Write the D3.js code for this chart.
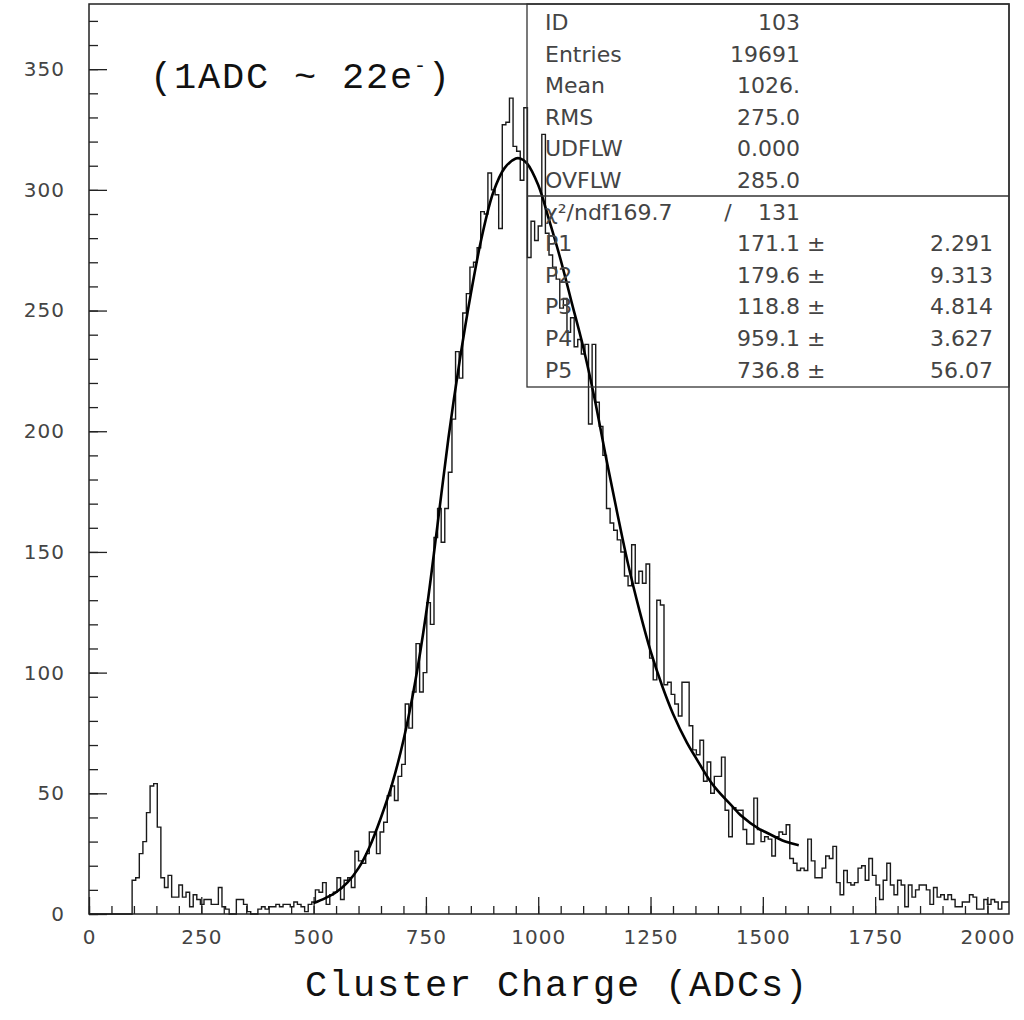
<!DOCTYPE html>
<html>
<head>
<meta charset="utf-8">
<script src="https://cdn.jsdelivr.net/npm/d3@7"></script>
<style>
  body { margin: 0; background: #fff; }
  svg { display: block; }
</style>
</head>
<body>
<div id="chart"></div>
<script>
// histogram: 256 bins of 8 ADC from 0 to 2048
var binWidth = 8;
var counts = [
  0,0,0,0,0,0,0,0,0,0,0,0,14,15,25,30,
  42,53,54,36,15,11,16,7,7,12,7,9,3,8,6,4,
  6,6,4,4,11,3,2,0,0,6,6,4,1,0,0,2,
  3,2,3,3,4,3,4,4,3,5,4,3,1,4,5,10,
  9,13,4,8,9,15,6,14,15,11,26,22,21,25,34,34,
  25,34,38,49,53,47,57,62,87,77,92,112,92,100,129,120,
  156,168,154,168,183,205,233,222,249,257,268,270,276,291,290,307,
  300,298,284,327,328,338,318,316,304,334,272,287,279,285,323,282,
  273,268,263,251,255,241,247,235,238,232,236,203,236,212,202,190,
  168,162,159,155,150,140,136,153,137,142,137,145,106,97,130,128,
  95,96,91,87,82,96,96,78,68,66,72,55,63,50,57,57,
  65,43,32,44,43,43,35,29,29,48,35,30,32,31,24,32,
  34,33,37,23,21,18,19,18,31,22,15,15,19,24,23,28,
  13,8,18,13,12,13,19,20,14,23,16,12,6,14,21,12,
  8,14,12,3,12,7,10,12,12,10,4,11,7,8,6,8,
  6,3,3,5,5,8,7,2,2,6,4,6,5,2,5,5
];

// fitted curve
var fitX = [500,525,550,575,600,625,650,675,700,725,750,775,800,825,850,875,900,925,950,960,975,
            1000,1025,1050,1075,1100,1125,1150,1175,1200,1225,1250,1275,1300,1331,1350,1383,1400,
            1435,1450,1494,1500,1550,1580];
var fitY = [4.5,6.5,9,13,19,28,40,54,72,95,124,160,197,229,257,281,299,309,313,313,311,
            302,287,271,253,235,214,190,167,145,126,109,95,83,71,65,55,51,
            44,41,35,34.5,30,28.5];

// statistics box
var statNames  = ["ID", "Entries", "Mean", "RMS", "UDFLW", "OVFLW"];
var statValues = ["103", "19691", "1026.", "275.0", "0.000", "285.0"];
var chiLabel = "\u03C7\u00B2/ndf169.7", chiNdf = "131";
var parNames  = ["P1", "P2", "P3", "P4", "P5"];
var parValues = ["171.1", "179.6", "118.8", "959.1", "736.8"];
var parErrors = ["2.291", "9.313", "4.814", "3.627", "56.07"];

var xMajor = [0, 250, 500, 750, 1000, 1250, 1500, 1750, 2000];
var yMajor = [0, 50, 100, 150, 200, 250, 300, 350];

var W = 1024, H = 1020;
var pL = 89, pR = 1009, pT = 4, pB = 914;

var svg = d3.select("#chart").append("svg")
    .attr("width", W)
    .attr("height", H);

var x = d3.scaleLinear().domain([0, 2048]).range([pL, pR]);
var y = d3.scaleLinear().domain([0, 377]).range([pB, pT]);

var tickFont = "'DejaVu Sans', sans-serif";

// minor ticks
svg.append("g")
    .attr("transform", "translate(" + pL + ",0)")
    .call(d3.axisLeft(y).tickValues(d3.range(0, 377, 10)).tickSize(-9).tickFormat(""))
    .call(function(g) { g.select(".domain").remove(); });
svg.append("g")
    .attr("transform", "translate(0," + pB + ")")
    .call(d3.axisBottom(x).tickValues(d3.range(0, 2049, 50)).tickSize(-8).tickFormat(""))
    .call(function(g) { g.select(".domain").remove(); });

// major ticks + labels
svg.append("g")
    .attr("transform", "translate(" + pL + ",0)")
    .call(d3.axisLeft(y).tickValues(yMajor).tickSize(-18).tickPadding(24).tickFormat(d3.format("d")))
    .call(function(g) { g.select(".domain").remove(); });
svg.append("g")
    .attr("transform", "translate(0," + pB + ")")
    .call(d3.axisBottom(x).tickValues(xMajor).tickSize(-17).tickPadding(16).tickFormat(d3.format("d")))
    .call(function(g) { g.select(".domain").remove(); });

svg.selectAll(".tick line").attr("stroke", "#222").attr("stroke-width", 1.3);
svg.selectAll(".tick text")
    .attr("font-family", tickFont)
    .attr("font-size", 20)
    .attr("letter-spacing", 1)
    .attr("fill", "#444");

// frame
svg.append("rect")
    .attr("x", pL).attr("y", pT)
    .attr("width", pR - pL).attr("height", pB - pT)
    .attr("fill", "none")
    .attr("stroke", "#222")
    .attr("stroke-width", 1.5);

// histogram outline
var pts = [];
counts.forEach(function(c, i) {
  pts.push([x(i * binWidth), y(c)]);
  pts.push([x((i + 1) * binWidth), y(c)]);
});
svg.append("path")
    .attr("d", d3.line()(pts))
    .attr("fill", "none")
    .attr("stroke", "#1a1a1a")
    .attr("stroke-width", 1.4);

// fit
svg.append("path")
    .datum(fitX.map(function(d, i) { return [d, fitY[i]]; }))
    .attr("d", d3.line()
        .x(function(d) { return x(d[0]); })
        .y(function(d) { return y(d[1]); })
        .curve(d3.curveCatmullRom))
    .attr("fill", "none")
    .attr("stroke", "#000")
    .attr("stroke-width", 2.6);

// stats box
var boxL = 527, boxR = pR, boxMid = 196, boxB = 387;
var box = svg.append("g").attr("font-family", tickFont).attr("font-size", 22).attr("fill", "#444");
box.append("rect")
    .attr("x", boxL).attr("y", pT)
    .attr("width", boxR - boxL).attr("height", boxB - pT)
    .attr("fill", "none").attr("stroke", "#333").attr("stroke-width", 1.3);
box.append("line")
    .attr("x1", boxL).attr("x2", boxR).attr("y1", boxMid).attr("y2", boxMid)
    .attr("stroke", "#333").attr("stroke-width", 1.3);

var rowY = function(i) { return 30 + i * 31.6; };
statNames.forEach(function(n, i) {
  box.append("text").attr("x", 545).attr("y", rowY(i)).text(n);
  box.append("text").attr("x", 800).attr("y", rowY(i)).attr("text-anchor", "end").text(statValues[i]);
});
box.append("text").attr("x", 545).attr("y", rowY(6)).text(chiLabel);
box.append("text").attr("x", 728).attr("y", rowY(6)).attr("text-anchor", "middle").text("/");
box.append("text").attr("x", 800).attr("y", rowY(6)).attr("text-anchor", "end").text(chiNdf);
parNames.forEach(function(n, i) {
  var yy = rowY(7 + i);
  box.append("text").attr("x", 545).attr("y", yy).text(n);
  box.append("text").attr("x", 800).attr("y", yy).attr("text-anchor", "end").text(parValues[i]);
  box.append("text").attr("x", 807).attr("y", yy).text("\u00B1");
  box.append("text").attr("x", 993).attr("y", yy).attr("text-anchor", "end").text(parErrors[i]);
});

// annotation and axis title
var mono = "'Liberation Mono', 'Courier New', monospace";
var note = svg.append("text")
    .attr("x", 150).attr("y", 88)
    .attr("font-family", mono).attr("font-size", 37)
    .attr("letter-spacing", 1.8)
    .attr("fill", "#111");
note.append("tspan").text("(1ADC ~ 22e");
note.append("tspan").attr("font-size", 20).attr("dy", -16).text("-");
note.append("tspan").attr("dy", 16).text(")");

svg.append("text")
    .attr("x", 557).attr("y", 996)
    .attr("text-anchor", "middle")
    .attr("font-family", mono).attr("font-size", 37)
    .attr("letter-spacing", 1.8)
    .attr("fill", "#111")
    .text("Cluster Charge (ADCs)");
</script>
</body>
</html>
